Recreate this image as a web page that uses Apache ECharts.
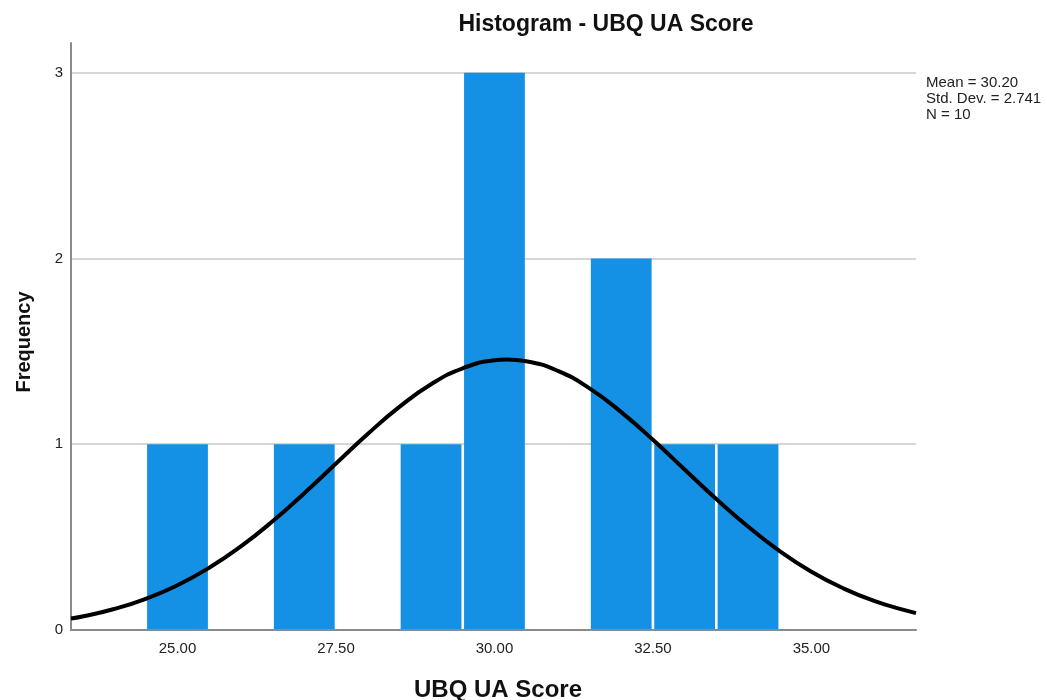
<!DOCTYPE html>
<html>
<head>
<meta charset="utf-8">
<title>Histogram - UBQ UA Score</title>
<script src="https://cdn.jsdelivr.net/npm/echarts@6/dist/echarts.min.js"></script>
<style>
  html, body { margin: 0; padding: 0; background: #fff; }
  #chart { width: 1047px; height: 700px; }
</style>
</head>
<body>
<div id="chart"></div>
<script>
// Score bins (centre of each unit-wide bin) and their frequencies
const binCenters = [25, 27, 29, 30, 32, 33, 34];
const frequencies = [1, 1, 1, 3, 2, 1, 1];
const binWidth = 1;

// Fitted normal curve (Mean = 30.20, Std. Dev. = 2.741, N = 10), scaled to counts
const curveX = [23.32, 23.5, 24, 24.5, 25, 25.5, 26, 26.5, 27, 27.5, 28, 28.5, 29, 29.5,
                30, 30.2, 30.5, 31, 31.5, 32, 32.5, 33, 33.5, 34, 34.5, 35, 35.5, 36, 36.5, 36.65];
const curveY = [0.062, 0.073, 0.113, 0.168, 0.241, 0.335, 0.450, 0.585, 0.736, 0.896, 1.055, 1.201, 1.323, 1.409,
                1.452, 1.456, 1.447, 1.395, 1.301, 1.173, 1.024, 0.864, 0.705, 0.557, 0.425, 0.314, 0.225, 0.155, 0.104, 0.091];

// Axis ticks and summary lines
const xTickValues = [25, 27.5, 30, 32.5, 35];
const yTickValues = [0, 1, 2, 3];
const statLines = ['Mean = 30.20', 'Std. Dev. = 2.741', 'N = 10'];

const FONT = '"Liberation Sans", Arial, Helvetica, sans-serif';
const BAR_COLOR = '#1490E5';

const barData = binCenters.map((c, i) => [c, frequencies[i]]);
const curveData = curveX.map((x, i) => [x, curveY[i]]);

const chart = echarts.init(document.getElementById('chart'), null, { renderer: 'canvas' });

chart.setOption({
  animation: false,
  backgroundColor: '#ffffff',
  grid: { left: 71, right: 131, top: 43, bottom: 70, containLabel: false },
  xAxis: {
    type: 'value',
    min: 23.32,
    max: 36.65,
    axisLine: { show: true, lineStyle: { color: '#8a8a8a', width: 2 } },
    axisTick: { show: false },
    splitLine: { show: false },
    axisLabel: {
      customValues: xTickValues,
      color: '#222',
      fontFamily: FONT,
      fontSize: 15,
      margin: 11,
      formatter: v => xTickValues.some(t => Math.abs(t - v) < 1e-6) ? v.toFixed(2) : ''
    }
  },
  yAxis: {
    type: 'value',
    min: 0,
    max: 3.16,
    interval: 1,
    axisLine: { show: true, onZero: false, lineStyle: { color: '#8a8a8a', width: 2 } },
    axisTick: { show: false },
    splitLine: {
      show: true,
      showMinLine: false,
      showMaxLine: false,
      lineStyle: { color: '#d6d6d6', width: 2 }
    },
    axisLabel: {
      showMaxLabel: false,
      color: '#222',
      fontFamily: FONT,
      fontSize: 15,
      margin: 8,
      formatter: v => yTickValues.indexOf(v) >= 0 ? String(v) : ''
    }
  },
  series: [
    {
      type: 'custom',
      name: 'Frequency',
      data: barData,
      z: 2,
      renderItem: function (params, api) {
        const c = api.value(0);
        const f = api.value(1);
        const topLeft = api.coord([c - binWidth / 2, f]);
        const bottomRight = api.coord([c + binWidth / 2, 0]);
        const inset = 1.3;
        return {
          type: 'rect',
          shape: {
            x: topLeft[0] + inset,
            y: topLeft[1],
            width: bottomRight[0] - topLeft[0] - inset * 2,
            height: bottomRight[1] - topLeft[1] - 1
          },
          style: { fill: BAR_COLOR }
        };
      }
    },
    {
      type: 'line',
      name: 'Normal',
      data: curveData,
      smooth: true,
      symbol: 'none',
      z: 3,
      lineStyle: { color: '#000', width: 4 }
    }
  ],
  graphic: [
    {
      type: 'text',
      x: 606, y: 25,
      style: {
        text: 'Histogram - UBQ UA Score',
        font: 'bold 23px ' + FONT,
        fill: '#111',
        textAlign: 'center',
        textVerticalAlign: 'middle'
      }
    },
    {
      type: 'text',
      x: 498, y: 690,
      style: {
        text: 'UBQ UA Score',
        font: 'bold 24px ' + FONT,
        fill: '#111',
        textAlign: 'center',
        textVerticalAlign: 'middle'
      }
    },
    {
      type: 'text',
      x: 24, y: 342,
      rotation: Math.PI / 2,
      style: {
        text: 'Frequency',
        font: 'bold 20px ' + FONT,
        fill: '#111',
        textAlign: 'center',
        textVerticalAlign: 'middle'
      }
    },
    {
      type: 'text',
      x: 926, y: 75,
      style: {
        text: statLines.join('\n'),
        font: '15px ' + FONT,
        lineHeight: 16,
        fill: '#222',
        textAlign: 'left',
        textVerticalAlign: 'top'
      }
    }
  ]
});
</script>
</body>
</html>
